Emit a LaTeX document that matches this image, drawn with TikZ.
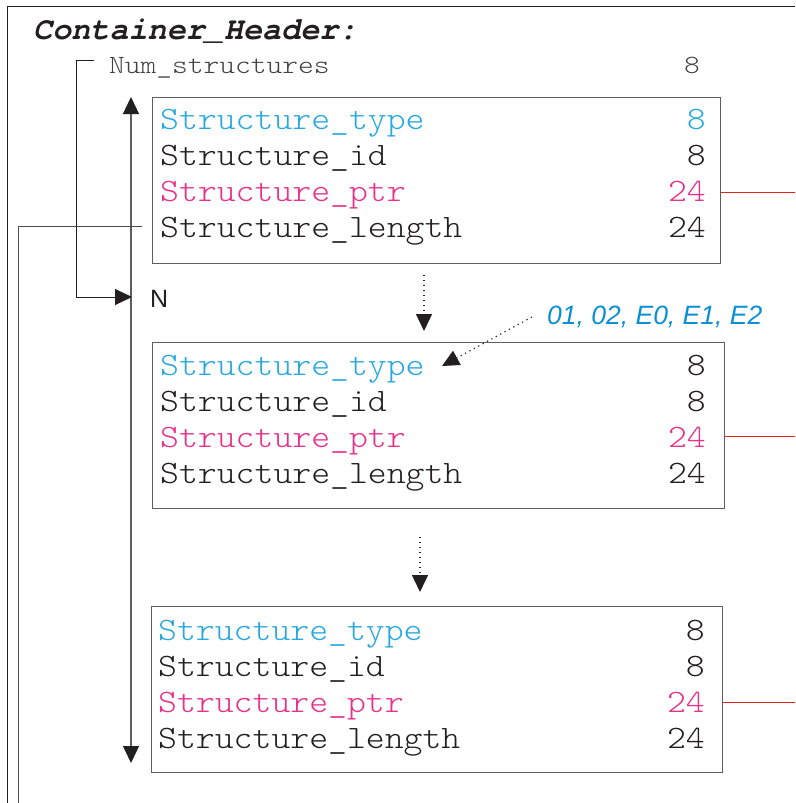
\documentclass[tikz,border=0pt]{standalone}
\usepackage{fontspec}
\setmainfont{Liberation Sans}
\setsansfont{Liberation Sans}
\setmonofont{Liberation Mono}
\newfontfamily\fldfont{lmmonolt10-regular}[Extension=.otf, FakeStretch=1.1]
\newfontfamily\nsfont{lmmonolt10-regular}[Extension=.otf, FakeStretch=1.14]
\newfontfamily\hdrfont{texgyrecursor-bolditalic}[Extension=.otf]
\usetikzlibrary{arrows.meta}
\definecolor{cy}{HTML}{29A8E0}
\definecolor{mg}{HTML}{E8318A}
\definecolor{tx}{HTML}{231F20}
\definecolor{lb}{HTML}{0D8FD6}
\definecolor{rl}{HTML}{E2231A}
\definecolor{gl}{HTML}{5F5D5D}
\begin{document}
\begin{tikzpicture}[x=1pt,y=-1pt,
  fld/.style={inner sep=0pt, anchor=base west, text=tx, font=\fldfont\fontsize{32.7}{36}\selectfont},
  num/.style={inner sep=0pt, anchor=base east, text=tx, font=\fldfont\fontsize{32.7}{36}\selectfont},
  stbox/.style={draw=gl, line width=1.3pt, anchor=north west, inner sep=0pt, minimum width=570pt, minimum height=166pt},
  redl/.style={draw=rl, line width=1pt},
  thin/.style={draw=tx, line width=1pt},
  bigtip/.style={-{Triangle[length=17pt,width=16pt,color=tx]}},
  dots/.style={draw=tx, line width=1.3pt, dash pattern=on 1.3pt off 3.7pt}
]
\useasboundingbox (0,0) rectangle (795,803);
% frame
\coordinate (fr) at (795,6);
\coordinate (fb) at (7,803);
\draw[thin] (fr) -| (fb);
% header
\node[inner sep=0pt, anchor=base west, text=tx, font=\hdrfont\fontsize{31.8}{36}\selectfont] (hdr) at (33,39) {Container\_Header:};
\node[inner sep=0pt, anchor=base west, text=tx!85, font=\nsfont\fontsize{26.3}{30}\selectfont] (ns) at (109,73) {Num\_structures};
\node[inner sep=0pt, anchor=base east, text=tx!85, font=\nsfont\fontsize{26.3}{30}\selectfont] (nsv) at (700,73) {8};

% boxes
\node[stbox, minimum width=568pt] (b1) at (152,97) {};
\node[stbox, minimum width=572pt] (b2) at (152,342) {};
\node[stbox, minimum width=571pt] (b3) at (151,606) {};

% box 1 fields
\node[fld, text=cy] (t1) at (160,129) {Structure\_type};
\node[num, text=cy] (t1v) at (706,129) {8};
\node[fld] (i1) at (160,165) {Structure\_id};
\node[num] (i1v) at (706,165) {8};
\node[fld, text=mg] (p1) at (160,201) {Structure\_ptr};
\node[num, text=mg] (p1v) at (706,201) {24};
\node[fld] (l1) at (160,237) {Structure\_length};
\node[num] (l1v) at (706,237) {24};

% box 2 fields
\node[fld, text=cy] (t2) at (160,375) {Structure\_type};
\node[num] (t2v) at (706,375) {8};
\node[fld] (i2) at (160,411) {Structure\_id};
\node[num] (i2v) at (706,411) {8};
\node[fld, text=mg] (p2) at (160,447) {Structure\_ptr};
\node[num, text=mg] (p2v) at (706,447) {24};
\node[fld] (l2) at (160,483) {Structure\_length};
\node[num] (l2v) at (706,483) {24};

% box 3 fields
\node[fld, text=cy] (t3) at (158,640) {Structure\_type};
\node[num] (t3v) at (705,640) {8};
\node[fld] (i3) at (158,676) {Structure\_id};
\node[num] (i3v) at (705,676) {8};
\node[fld, text=mg] (p3) at (158,712) {Structure\_ptr};
\node[num, text=mg] (p3v) at (705,712) {24};
\node[fld] (l3) at (158,748) {Structure\_length};
\node[num] (l3v) at (705,748) {24};

% red lines
\coordinate (r1) at (795,192);
\coordinate (r2) at (795,436);
\coordinate (r3) at (795,702);
\draw[redl] (b1.east |- r1) -- (r1);
\draw[redl] (b2.east |- r2) -- (r2);
\draw[redl] (b3.east |- r3) -- (r3);

% vertical double arrow
\coordinate (vt) at (131,97);
\coordinate (vb) at (131,763);
\draw[draw=gl, line width=1.3pt, {Triangle[length=17pt,width=16pt,color=tx]}-{Triangle[length=17pt,width=16pt,color=tx]}] (vt) -- (vb);

% Num_structures loop to N
\coordinate (nsa) at (94,60);
\coordinate (nsk) at (76,60);
\coordinate (nt) at (132,297);
\draw[thin, bigtip] (nsa) -- (nsk) |- (nt);
\node[inner sep=0pt, anchor=base west, text=tx, font=\fontsize{25}{28}\selectfont\sffamily] (N) at (150,307) {N};

% Structure_length connector
\coordinate (la) at (142,226);
\coordinate (lb) at (18,803);
\draw[draw=tx!80, line width=1pt] (la) -| (lb);

% dotted arrows between boxes
\coordinate (d1s) at (424,275);
\coordinate (d1e) at (424,331);
\draw[dots, bigtip] (d1s) -- (d1e);
\coordinate (d2s) at (420,537);
\coordinate (d2e) at (420,592);
\draw[dots, bigtip] (d2s) -- (d2e);

% label
\node[inner sep=0pt, anchor=base west, text=lb, font=\fontsize{26.5}{30}\selectfont\sffamily\itshape] (lab) at (547,324) {01, 02, E0, E1, E2};
\coordinate (las) at (532,317);
\coordinate (lae) at (442,366);
\draw[dots, line width=1.1pt, bigtip] (las) -- (lae);
\end{tikzpicture}
\end{document}
